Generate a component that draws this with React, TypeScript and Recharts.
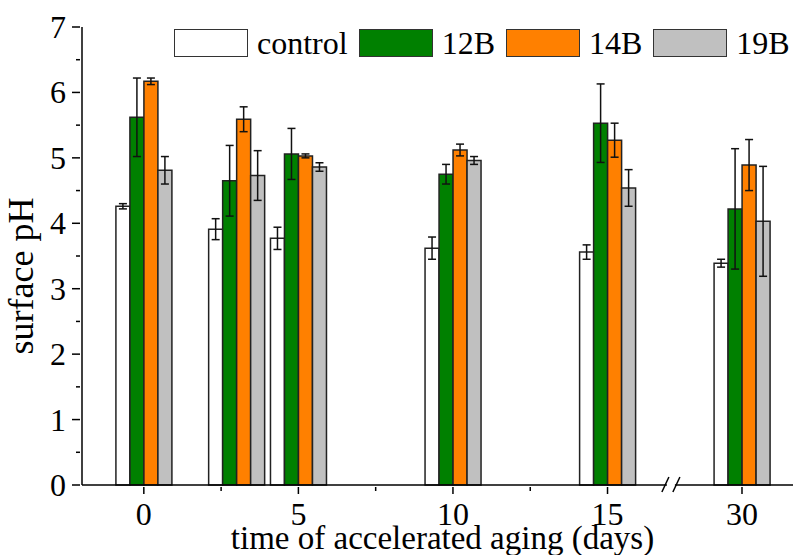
import { Bar, BarChart, ErrorBar, Legend, ReferenceDot, XAxis, YAxis } from "recharts";

// aging time in days, one group of bars per entry
const days = [0, 3, 5, 10, 15, 30];

const controlPH = [4.26, 3.91, 3.77, 3.62, 3.56, 3.39];
const controlErr = [0.04, 0.16, 0.17, 0.17, 0.11, 0.06];
const ph12B = [5.62, 4.65, 5.06, 4.75, 5.53, 4.22];
const err12B = [0.6, 0.54, 0.39, 0.15, 0.6, 0.92];
const ph14B = [6.17, 5.59, 5.03, 5.12, 5.27, 4.89];
const err14B = [0.05, 0.19, 0.03, 0.09, 0.26, 0.39];
const ph19B = [4.81, 4.73, 4.86, 4.96, 4.54, 4.03];
const err19B = [0.21, 0.38, 0.065, 0.06, 0.28, 0.84];

const dayTicks = [0, 5, 10, 15, 30];
const dayMinorTicks = [2.5, 7.5, 12.5];
const phTicks = [0, 1, 2, 3, 4, 5, 6, 7];

// the day axis is broken after 15 days; later days are squeezed together
const BREAK_AFTER = 15;
const SQUEEZE = 0.29;
const BREAK_MARK_AT = 17.05;
const toAxis = (d: number) => (d <= BREAK_AFTER ? d : BREAK_AFTER + (d - BREAK_AFTER) * SQUEEZE);

const series = [
  { key: "control", name: "control", fill: "#ffffff", values: controlPH, errors: controlErr },
  { key: "b12", name: "12B", fill: "#008000", values: ph12B, errors: err12B },
  { key: "b14", name: "14B", fill: "#ff8000", values: ph14B, errors: err14B },
  { key: "b19", name: "19B", fill: "#c0c0c0", values: ph19B, errors: err19B },
];

const rows = days.map((d, i) => {
  const row: Record<string, number> = { pos: toAxis(d) };
  series.forEach((s) => {
    row[s.key] = s.values[i];
    row[s.key + "Err"] = s.errors[i];
  });
  return row;
});

const majorX = dayTicks.map(toAxis);
const xTicks = [...majorX, ...dayMinorTicks].sort((a, b) => a - b);
const yTicks: number[] = [];
for (let v = 0; v <= 7; v += 0.5) yTicks.push(v);

const FONT = "Liberation Serif, Tinos, DejaVu Serif, serif";
const near = (a: number, b: number) => Math.abs(a - b) < 1e-6;

const XTick = ({ x, y, payload }: any) => {
  const idx = majorX.findIndex((m) => near(m, payload.value));
  const major = idx >= 0;
  return (
    <g>
      <line x1={x} x2={x} y1={y} y2={y + (major ? 7 : 4)} stroke="#000" strokeWidth={1.5} />
      {major && (
        <text x={x} y={y + 38} textAnchor="middle" fontSize={32} fontFamily={FONT} fill="#000">
          {dayTicks[idx]}
        </text>
      )}
    </g>
  );
};

const YTick = ({ x, y, payload }: any) => {
  const major = phTicks.some((t) => near(t, payload.value));
  return (
    <g>
      <line x1={x - (major ? 8 : 4)} x2={x} y1={y} y2={y} stroke="#000" strokeWidth={1.5} />
      {major && (
        <text x={x - 14} y={y + 11} textAnchor="end" fontSize={32} fontFamily={FONT} fill="#000">
          {payload.value}
        </text>
      )}
    </g>
  );
};

const BreakMark = ({ cx, cy }: any) => (
  <g>
    <rect x={cx - 4} y={cy - 2} width={8} height={4} fill="#fff" />
    <line x1={cx - 9} y1={cy + 7} x2={cx - 2} y2={cy - 8} stroke="#000" strokeWidth={1.5} />
    <line x1={cx + 2} y1={cy + 7} x2={cx + 9} y2={cy - 8} stroke="#000" strokeWidth={1.5} />
  </g>
);

// legend drawn in series order, boxes as wide rectangles
const renderLegend = () => (
  <div style={{ display: "flex", alignItems: "center", fontSize: 32, lineHeight: "32px", fontFamily: FONT }}>
    {series.map((s) => (
      <div key={s.key} style={{ display: "flex", alignItems: "center", marginRight: 11 }}>
        <span
          style={{
            display: "inline-block",
            width: 74,
            height: 28,
            boxSizing: "border-box",
            background: s.fill,
            border: "1.5px solid #333",
            marginRight: 9,
          }}
        />
        <span>{s.name}</span>
      </div>
    ))}
  </div>
);

export default function App() {
  return (
    <div style={{ position: "absolute", left: 0, top: 0, fontFamily: FONT }}>
      <BarChart
        width={795}
        height={555}
        data={rows}
        margin={{ top: 27, right: 2, bottom: 0, left: 0 }}
        barGap={0}
        barSize={14}
      >
        <XAxis
          type="number"
          dataKey="pos"
          domain={[-2, 21]}
          ticks={xTicks}
          interval={0}
          tickSize={0}
          tickLine={false}
          tick={<XTick />}
          height={70}
          axisLine={{ stroke: "#000", strokeWidth: 1.5 }}
          allowDataOverflow
          label={{
            content: ({ viewBox }: any) => (
              <text
                x={viewBox.x + viewBox.width / 2 + 5}
                y={viewBox.y + 64}
                textAnchor="middle"
                fontSize={33}
                fontFamily={FONT}
                fill="#000"
              >
                time of accelerated aging (days)
              </text>
            ),
          }}
        />
        <YAxis
          type="number"
          domain={[0, 7]}
          ticks={yTicks}
          interval={0}
          tickSize={0}
          tickLine={false}
          tick={<YTick />}
          width={82}
          axisLine={{ stroke: "#000", strokeWidth: 1.5 }}
          label={{
            content: ({ viewBox }: any) => (
              <text
                transform={`translate(${viewBox.x + 33}, ${viewBox.y + viewBox.height / 2 + 20}) rotate(-90)`}
                textAnchor="middle"
                fontSize={36}
                fontFamily={FONT}
                fill="#000"
              >
                surface pH
              </text>
            ),
          }}
        />
        <Legend
          layout="horizontal"
          verticalAlign="middle"
          align="center"
          content={renderLegend}
          wrapperStyle={{ top: 27, left: 174, width: "auto" }}
        />
        {series.map((s) => (
          <Bar
            key={s.key}
            dataKey={s.key}
            name={s.name}
            fill={s.fill}
            stroke="#222"
            strokeWidth={1.5}
            isAnimationActive={false}
          >
            <ErrorBar dataKey={s.key + "Err"} width={4} stroke="#111" strokeWidth={1.5} direction="y" />
          </Bar>
        ))}
        <ReferenceDot x={BREAK_MARK_AT} y={0} ifOverflow="visible" shape={<BreakMark />} />
      </BarChart>
    </div>
  );
}
